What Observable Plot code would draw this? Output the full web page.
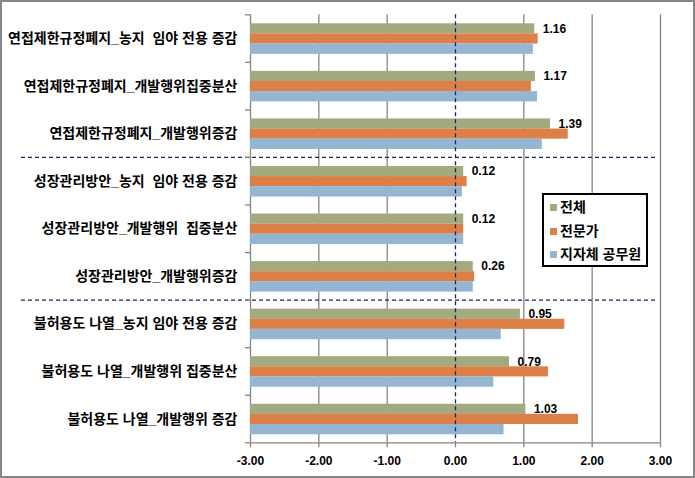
<!DOCTYPE html>
<html>
<head>
<meta charset="utf-8">
<script src="https://cdn.jsdelivr.net/npm/d3@7"></script>
<script src="https://cdn.jsdelivr.net/npm/@observablehq/plot@0.6"></script>
<style>
  html, body { margin: 0; padding: 0; background: #fff; }
  #wrap { position: relative; width: 695px; height: 478px; overflow: hidden; }
  #border { position: absolute; left: 0; top: 0; width: 695px; height: 478px; box-sizing: border-box; border: 2px solid #868686; pointer-events: none; }
  #legend { position: absolute; left: 542px; top: 193px; width: 106px; height: 74px; box-sizing: border-box; border: 2px solid #000; background: #fff;
            font-family: "Liberation Sans", "Noto Sans CJK KR", sans-serif; font-weight: bold; font-size: 14px; color: #000; }
  .item { position: absolute; left: 6px; height: 20px; line-height: 20px; white-space: nowrap; }
  .sw { display: inline-block; width: 7px; height: 7px; margin-right: 3px; vertical-align: 1px; }
  svg text { white-space: pre; }
</style>
</head>
<body>
<div id="wrap">
  <div id="chart"></div>
  <div id="legend"></div>
  <div id="border"></div>
</div>
<script>
const categories = [
  "연접제한규정폐지_농지  임야 전용 증감",
  "연접제한규정폐지_개발행위집중분산",
  "연접제한규정폐지_개발행위증감",
  "성장관리방안_농지  임야 전용 증감",
  "성장관리방안_개발행위  집중분산",
  "성장관리방안_개발행위증감",
  "불허용도 나열_농지 임야 전용 증감",
  "불허용도 나열_개발행위 집중분산",
  "불허용도 나열_개발행위 증감"
];
const seriesNames = ["전체", "전문가", "지자체 공무원"];
const total    = [1.16, 1.17, 1.39, 0.12, 0.12, 0.26, 0.95, 0.79, 1.03];
const expert   = [1.21, 1.11, 1.65, 0.17, 0.12, 0.28, 1.60, 1.36, 1.80];
const official = [1.14, 1.20, 1.27, 0.10, 0.12, 0.26, 0.67, 0.56, 0.71];
const xTicks = [-3, -2, -1, 0, 1, 2, 3];
const groupBreaks = [3, 6];
const colors = ["#A4AA7F", "#DD8047", "#94B6D2"];

const rows = categories.map((c, i) => ({c, i, total: total[i], expert: expert[i], official: official[i]}));
const xMin = xTicks[0];
const gray = "#868686";
const navy = "#14285a";
const font = "'Liberation Sans', 'Noto Sans CJK KR', sans-serif";

const chart = Plot.plot({
  width: 695,
  height: 478,
  marginLeft: 250,
  marginRight: 35,
  marginTop: 14.3,
  marginBottom: 35.7,
  style: {fontFamily: font, overflow: "visible", background: "transparent"},
  x: {domain: [xTicks[0], xTicks[xTicks.length - 1]], axis: null},
  y: {domain: [0, categories.length], reverse: true, axis: null},
  marks: [
    Plot.ruleX(xTicks.filter(t => t !== 0), {stroke: gray, strokeWidth: 1.3}),
    Plot.rect(rows, {x1: xMin, x2: "total", y1: "i", y2: d => d.i + 1, fill: colors[0], insetTop: 9, insetBottom: 28.4}),
    Plot.rect(rows, {x1: xMin, x2: "expert", y1: "i", y2: d => d.i + 1, fill: colors[1], insetTop: 19.1, insetBottom: 18.3}),
    Plot.rect(rows, {x1: xMin, x2: "official", y1: "i", y2: d => d.i + 1, fill: colors[2], insetTop: 29.2, insetBottom: 8}),
    Plot.ruleX([0], {stroke: navy, strokeWidth: 1.3, strokeDasharray: "4,3"}),
    Plot.ruleY(groupBreaks, {stroke: navy, strokeWidth: 1.3, strokeDasharray: "4,3", insetLeft: -229, insetRight: 2}),
    Plot.ruleY([categories.length], {stroke: gray, strokeWidth: 1.3}),
    Plot.axisY({ticks: d3.range(categories.length + 1), tickFormat: () => "", tickSize: 5, stroke: gray, strokeWidth: 1.3, label: null}),
    Plot.axisX({ticks: xTicks, tickFormat: d => d.toFixed(2), tickSize: 5, tickPadding: 9, stroke: gray, strokeWidth: 1.3,
                fontSize: 12, fontWeight: "bold", fill: "#000", label: null}),
    Plot.text(rows, {x: xMin, y: d => d.i + 0.5, text: "c", textAnchor: "end", dx: -13, fontSize: 14, fontWeight: "bold", fill: "#000"}),
    Plot.text(rows, {x: "total", y: d => d.i + 0.5, text: d => d.total.toFixed(2), textAnchor: "start", dx: 8, dy: -9.8,
                     fontSize: 12, fontWeight: "bold", fill: "#000"})
  ]
});
document.getElementById("chart").appendChild(chart);

const legend = document.getElementById("legend");
seriesNames.forEach((name, k) => {
  const item = document.createElement("div");
  item.className = "item";
  item.style.top = (2 + k * 23.5) + "px";
  const sw = document.createElement("span");
  sw.className = "sw";
  sw.style.background = colors[k];
  item.appendChild(sw);
  item.appendChild(document.createTextNode(name));
  legend.appendChild(item);
});
</script>
</body>
</html>
